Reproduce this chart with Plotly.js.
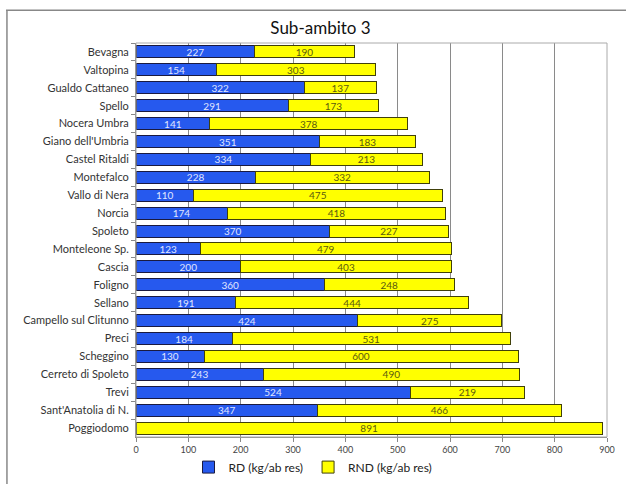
<!DOCTYPE html>
<html><head><meta charset="utf-8">
<script src="https://cdn.plot.ly/plotly-3.0.1.min.js"></script>
<style>body{margin:0;background:#fff}#c{width:626px;height:484px}</style>
</head><body><div id="c"></div>
<script>
var comuni = ["Bevagna","Valtopina","Gualdo Cattaneo","Spello","Nocera Umbra","Giano dell'Umbria","Castel Ritaldi","Montefalco","Vallo di Nera","Norcia","Spoleto","Monteleone Sp.","Cascia","Foligno","Sellano","Campello sul Clitunno","Preci","Scheggino","Cerreto di Spoleto","Trevi","Sant'Anatolia di N.","Poggiodomo"];
var rd  = [227,154,322,291,141,351,334,228,110,174,370,123,200,360,191,424,184,130,243,524,347,0];
var rnd = [190,303,137,173,378,183,213,332,475,418,227,479,403,248,444,275,531,600,490,219,466,891];
var xTicks = [0,100,200,300,400,500,600,700,800,900];

var font = "Lato, 'Open Sans', sans-serif";
var traces = [
  {type:'bar', orientation:'h', name:'RD (kg/ab res)', y:comuni, x:rd,
   text: rd.map(function(v){return v>0? String(v):'';}), textposition:'inside', insidetextanchor:'middle',
   textfont:{color:'#e0e6ff', size:10, family:font}, constraintext:'none',
   marker:{color:'#2659EE', line:{color:'#1a1a40', width:1}}, hoverinfo:'x+y'},
  {type:'bar', orientation:'h', name:'RND (kg/ab res)', y:comuni, x:rnd,
   text: rnd.map(String), textposition:'inside', insidetextanchor:'middle',
   textfont:{color:'#5a5a10', size:10, family:font}, constraintext:'none',
   marker:{color:'#FFFF00', line:{color:'#40400a', width:1}}, hoverinfo:'x+y'}
];
var layout = {
  width:626, height:484, barmode:'stack', bargap:0.33,
  margin:{l:136, r:19, t:43, b:47, autoexpand:false},
  paper_bgcolor:'#fff', plot_bgcolor:'#fff',
  font:{family:font, size:11, color:'#333'},
  title:{text:'Sub-ambito 3', x:0.512, xanchor:'center', y:0.942, yanchor:'middle', font:{size:17, color:'#111', family:font}},
  xaxis:{range:[0,900], tickvals:xTicks, showgrid:true, gridcolor:'#8a8a8a', gridwidth:1,
         showline:true, linecolor:'#888', ticks:'outside', ticklen:4, tickcolor:'#888',
         tickfont:{size:9, color:'#444'}, zeroline:false, fixedrange:true, mirror:false},
  yaxis:{autorange:'reversed', type:'category', showline:true, linecolor:'#888',
         ticks:'outside', ticklen:4, tickcolor:'#888', tickson:'boundaries',
         tickfont:{size:11, color:'#333'}, ticklabelstandoff:4, fixedrange:true},
  legend:{orientation:'h', x:0.5, xref:'container', xanchor:'center', y:0.005, yref:'container', yanchor:'bottom',
          font:{size:12, color:'#222', family:font}, traceorder:'normal', itemwidth:30},
  showlegend:true,
  shapes:[
    {type:'rect', xref:'paper', yref:'paper', x0:0, x1:1, y0:0, y1:1, line:{color:'#aaa', width:1}},
    {type:'line', xref:'paper', yref:'paper', x0:-0.276, x1:1.05, y0:1.083, y1:1.083, line:{color:'#888', width:1.5}},
    {type:'line', xref:'paper', yref:'paper', x0:-0.274, x1:-0.274, y0:1.083, y1:-0.13, line:{color:'#888', width:1.5}}
  ]
};
Plotly.newPlot('c', traces, layout, {displayModeBar:false, staticPlot:true});
</script></body></html>
